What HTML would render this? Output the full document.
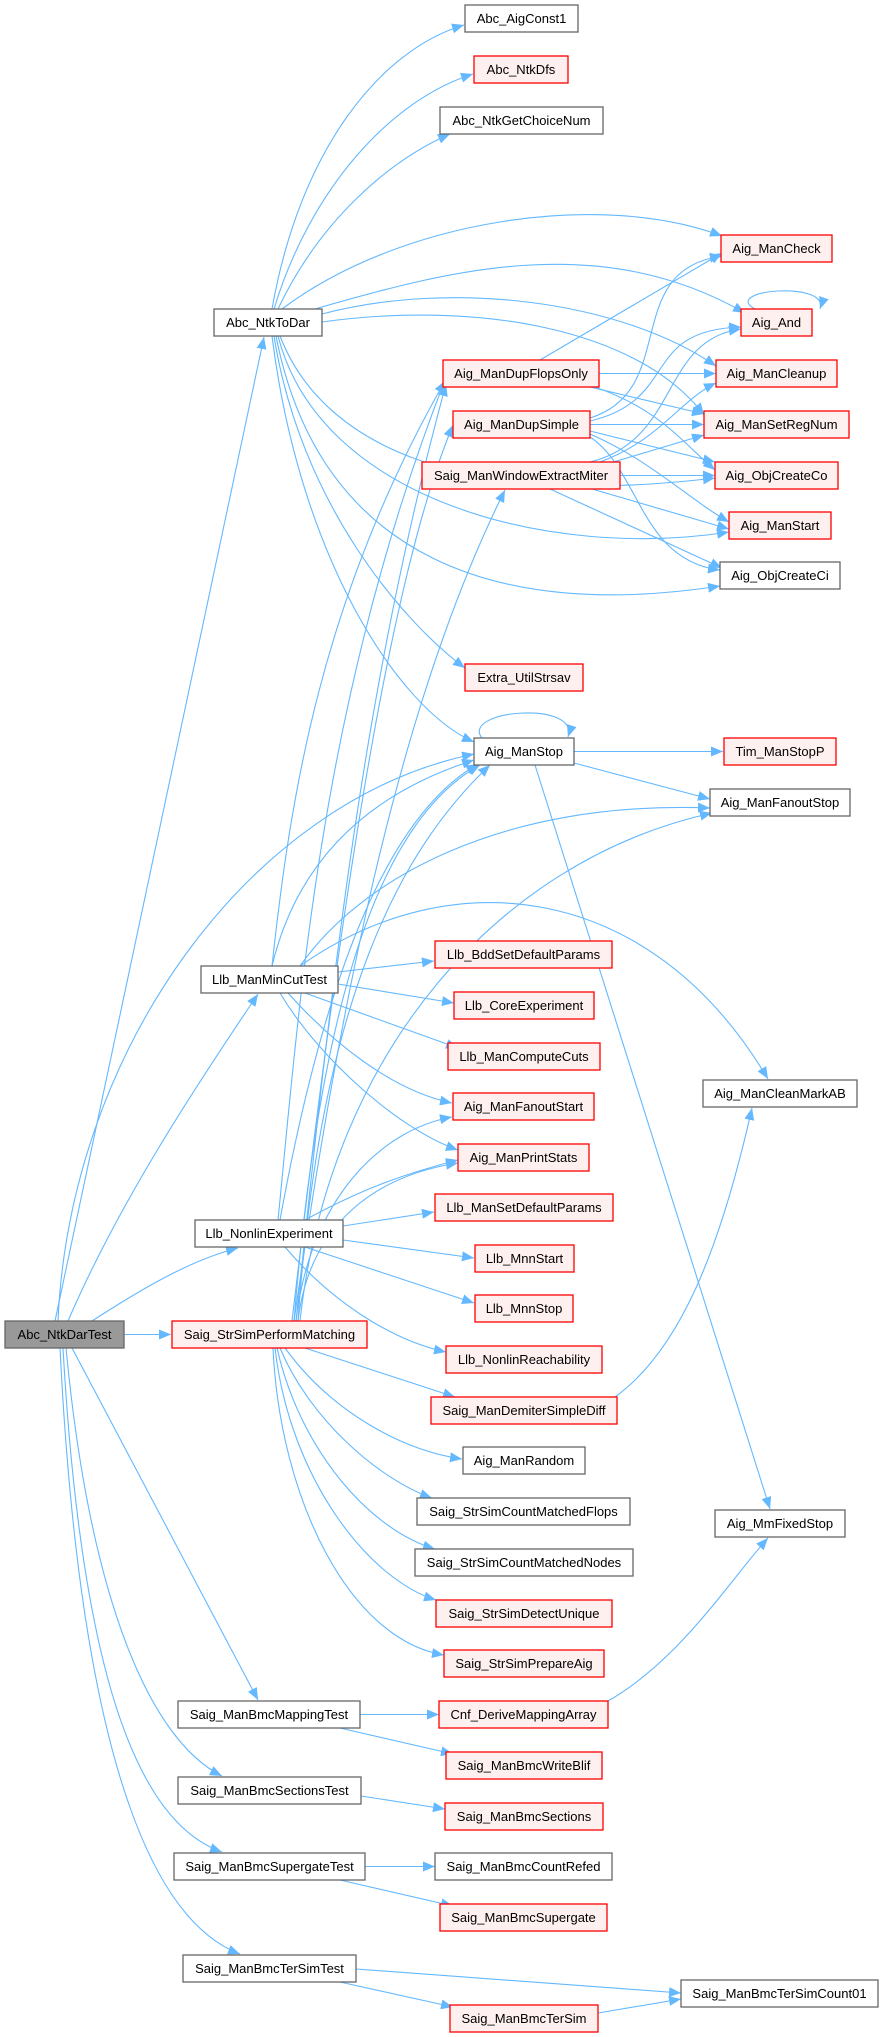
<!DOCTYPE html>
<html><head><meta charset="utf-8"><style>
html,body{margin:0;padding:0;background:#fff;}
svg{display:block;}
text{font-family:"Liberation Sans",Arial,sans-serif;font-size:13px;fill:#000;}
.n rect{fill:#fff;stroke:#666;stroke-width:1.3;}
.r rect{fill:#fff0f0;stroke:#ff0000;stroke-width:1.3;}
.g rect{fill:#999;stroke:#666;stroke-width:1.3;}
path.e{fill:none;stroke:#63b8ff;stroke-width:1.1;marker-end:url(#a);}
</style></head><body>
<svg width="880" height="2037" viewBox="0 0 880 2037" xmlns="http://www.w3.org/2000/svg">
<defs><marker id="a" viewBox="0 0 12 10" refX="12" refY="5" markerWidth="12" markerHeight="10" markerUnits="userSpaceOnUse" orient="auto"><path d="M0,0 L12,5 L0,10 z" fill="#63b8ff"/></marker></defs>

<!-- edges from Abc_NtkDarTest -->
<path class="e" d="M55,1321 L264,337"/>
<path class="e" d="M58,1321 C70,1050 250,800 474,754"/>
<path class="e" d="M68,1321 C120,1200 200,1080 258,994"/>
<path class="e" d="M92,1321 C140,1290 190,1260 238,1248"/>
<path class="e" d="M124,1334.5 L171,1334.5"/>
<path class="e" d="M72,1348 L258,1700"/>
<path class="e" d="M66,1348 C90,1600 150,1740 222,1776"/>
<path class="e" d="M63,1348 C80,1650 130,1820 222,1852"/>
<path class="e" d="M60,1348 C80,1750 150,1920 240,1954"/>

<!-- Abc_NtkToDar -->
<path class="e" d="M272,309 C300,150 380,50 464,25"/>
<path class="e" d="M274,309 C310,190 390,100 473,74"/>
<path class="e" d="M278,309 C320,220 390,160 450,134"/>
<path class="e" d="M282,309 C400,220 600,190 722,236"/>
<path class="e" d="M315,309 C450,270 600,230 745,313"/>
<path class="e" d="M322,314 C450,280 620,300 716,366"/>
<path class="e" d="M322,322 C480,300 640,330 704,415"/>
<path class="e" d="M280,336 C320,440 450,510 715,478"/>
<path class="e" d="M278,336 C320,500 550,560 729,532"/>
<path class="e" d="M276,336 C320,560 500,620 720,586"/>
<path class="e" d="M274,336 C300,500 400,620 465,668"/>
<path class="e" d="M272,336 C300,560 400,710 474,742"/>

<!-- DupFlopsOnly -->
<path class="e" d="M540,360 L722,253"/>
<path class="e" d="M599,373.5 L716,373.5"/>
<path class="e" d="M590,387 L704,414"/>
<path class="e" d="M595,387 C660,410 680,440 715,470"/>
<!-- DupSimple -->
<path class="e" d="M590,418 C680,390 620,270 722,256"/>
<path class="e" d="M590,421 C680,400 640,330 741,327"/>
<path class="e" d="M590,424.5 L704,424.5"/>
<path class="e" d="M590,431 L715,462"/>
<path class="e" d="M590,434 C650,460 690,500 729,522"/>
<path class="e" d="M590,437 C640,470 640,560 720,570"/>
<!-- WindowExtractMiter -->
<path class="e" d="M590,462 C680,440 660,340 741,329"/>
<path class="e" d="M600,462 C660,440 680,400 716,383"/>
<path class="e" d="M600,466 L704,435"/>
<path class="e" d="M620,475.5 L715,475.5"/>
<path class="e" d="M592,489 L729,529"/>
<path class="e" d="M550,489 L722,568"/>
<!-- Aig_And self loop -->
<path class="e" d="M755,309 C720,290 830,280 820,309"/>

<!-- Aig_ManStop -->
<path class="e" d="M482,738 C460,710 580,700 568,737"/>
<path class="e" d="M574,751.5 L723,751.5"/>
<path class="e" d="M574,763 L710,799"/>
<path class="e" d="M535,765 L770,1509"/>

<!-- Llb_ManMinCutTest -->
<path class="e" d="M272,966 C300,850 380,790 474,760"/>
<path class="e" d="M300,966 C360,880 500,800 710,808"/>
<path class="e" d="M300,966 C450,860 650,880 768,1079"/>
<path class="e" d="M338,972 L434,961"/>
<path class="e" d="M338,984 L454,1003"/>
<path class="e" d="M305,993 L458,1048"/>
<path class="e" d="M288,993 C330,1040 390,1090 452,1103"/>
<path class="e" d="M280,993 C320,1060 400,1130 458,1150"/>
<path class="e" d="M272,966 C290,800 320,600 445,381"/>

<!-- Llb_NonlinExperiment -->
<path class="e" d="M278,1220 C300,1000 320,700 445,380"/>
<path class="e" d="M280,1220 C320,1000 380,820 478,764"/>
<path class="e" d="M305,1220 C360,1190 400,1175 458,1160"/>
<path class="e" d="M343,1226 L434,1212"/>
<path class="e" d="M343,1240 L474,1258"/>
<path class="e" d="M305,1247 L474,1303"/>
<path class="e" d="M285,1247 C330,1300 390,1340 446,1352"/>

<!-- Saig_StrSimPerformMatching -->
<path class="e" d="M292,1321 C330,1000 380,600 453,425"/>
<path class="e" d="M294,1321 C340,1000 400,700 505,490"/>
<path class="e" d="M296,1321 C330,1000 360,700 446,384"/>
<path class="e" d="M294,1321 C320,1000 380,820 480,765"/>
<path class="e" d="M298,1321 C320,1000 400,850 490,765"/>
<path class="e" d="M300,1321 C330,1050 500,860 712,813"/>
<path class="e" d="M296,1321 C310,1200 380,1130 452,1117"/>
<path class="e" d="M298,1321 C310,1220 380,1175 458,1163"/>
<path class="e" d="M305,1348 L455,1397"/>
<path class="e" d="M285,1348 C330,1410 400,1450 462,1459"/>
<path class="e" d="M280,1348 C310,1420 380,1480 432,1498"/>
<path class="e" d="M277,1348 C300,1450 370,1530 435,1549"/>
<path class="e" d="M275,1348 C290,1480 370,1580 436,1600"/>
<path class="e" d="M273,1348 C280,1500 350,1640 444,1655"/>

<!-- others -->
<path class="e" d="M615,1397 C680,1350 720,1250 752,1108"/>
<path class="e" d="M608,1701 C680,1660 730,1580 768,1538"/>
<path class="e" d="M360,1714.5 L439,1714.5"/>
<path class="e" d="M340,1728 L453,1754"/>
<path class="e" d="M361,1796 L445,1809"/>
<path class="e" d="M365,1866.5 L435,1866.5"/>
<path class="e" d="M340,1880 L453,1906"/>
<path class="e" d="M356,1969 L681,1993"/>
<path class="e" d="M340,1982 L453,2007"/>
<path class="e" d="M598,2013 L681,1999"/>

<!-- nodes -->
<g class="g"><rect x="5" y="1321" width="119" height="27"/><text x="64.5" y="1339" text-anchor="middle">Abc_NtkDarTest</text></g>
<g class="n"><rect x="214" y="309" width="108" height="27"/><text x="268" y="327" text-anchor="middle">Abc_NtkToDar</text></g>
<g class="n"><rect x="201" y="966" width="137" height="27"/><text x="269.5" y="984" text-anchor="middle">Llb_ManMinCutTest</text></g>
<g class="n"><rect x="195" y="1220" width="148" height="27"/><text x="269" y="1238" text-anchor="middle">Llb_NonlinExperiment</text></g>
<g class="r"><rect x="172" y="1321" width="195" height="27"/><text x="269.5" y="1339" text-anchor="middle">Saig_StrSimPerformMatching</text></g>
<g class="n"><rect x="178" y="1701" width="182" height="27"/><text x="269" y="1719" text-anchor="middle">Saig_ManBmcMappingTest</text></g>
<g class="n"><rect x="178" y="1777" width="183" height="27"/><text x="269.5" y="1795" text-anchor="middle">Saig_ManBmcSectionsTest</text></g>
<g class="n"><rect x="174" y="1853" width="191" height="27"/><text x="269.5" y="1871" text-anchor="middle">Saig_ManBmcSupergateTest</text></g>
<g class="n"><rect x="183" y="1955" width="173" height="27"/><text x="269.5" y="1973" text-anchor="middle">Saig_ManBmcTerSimTest</text></g>

<g class="n"><rect x="465" y="5" width="113" height="27"/><text x="521.5" y="23" text-anchor="middle">Abc_AigConst1</text></g>
<g class="r"><rect x="474" y="56" width="94" height="27"/><text x="521" y="74" text-anchor="middle">Abc_NtkDfs</text></g>
<g class="n"><rect x="440" y="107" width="163" height="27"/><text x="521.5" y="125" text-anchor="middle">Abc_NtkGetChoiceNum</text></g>
<g class="r"><rect x="443" y="360" width="156" height="27"/><text x="521" y="378" text-anchor="middle">Aig_ManDupFlopsOnly</text></g>
<g class="r"><rect x="453" y="411" width="137" height="27"/><text x="521.5" y="429" text-anchor="middle">Aig_ManDupSimple</text></g>
<g class="r"><rect x="422" y="462" width="198" height="27"/><text x="521" y="480" text-anchor="middle">Saig_ManWindowExtractMiter</text></g>
<g class="r"><rect x="465" y="664" width="118" height="27"/><text x="524" y="682" text-anchor="middle">Extra_UtilStrsav</text></g>
<g class="n"><rect x="474" y="738" width="100" height="27"/><text x="524" y="756" text-anchor="middle">Aig_ManStop</text></g>
<g class="r"><rect x="435" y="941" width="177" height="27"/><text x="523.5" y="959" text-anchor="middle">Llb_BddSetDefaultParams</text></g>
<g class="r"><rect x="454" y="992" width="140" height="27"/><text x="524" y="1010" text-anchor="middle">Llb_CoreExperiment</text></g>
<g class="r"><rect x="448" y="1043" width="152" height="27"/><text x="524" y="1061" text-anchor="middle">Llb_ManComputeCuts</text></g>
<g class="r"><rect x="453" y="1093" width="141" height="27"/><text x="523.5" y="1111" text-anchor="middle">Aig_ManFanoutStart</text></g>
<g class="r"><rect x="458" y="1144" width="131" height="27"/><text x="523.5" y="1162" text-anchor="middle">Aig_ManPrintStats</text></g>
<g class="r"><rect x="435" y="1194" width="178" height="27"/><text x="524" y="1212" text-anchor="middle">Llb_ManSetDefaultParams</text></g>
<g class="r"><rect x="475" y="1245" width="99" height="27"/><text x="524.5" y="1263" text-anchor="middle">Llb_MnnStart</text></g>
<g class="r"><rect x="475" y="1295" width="98" height="27"/><text x="524" y="1313" text-anchor="middle">Llb_MnnStop</text></g>
<g class="r"><rect x="446" y="1346" width="156" height="27"/><text x="524" y="1364" text-anchor="middle">Llb_NonlinReachability</text></g>
<g class="r"><rect x="431" y="1397" width="186" height="27"/><text x="524" y="1415" text-anchor="middle">Saig_ManDemiterSimpleDiff</text></g>
<g class="n"><rect x="463" y="1447" width="122" height="27"/><text x="524" y="1465" text-anchor="middle">Aig_ManRandom</text></g>
<g class="n"><rect x="417" y="1498" width="213" height="27"/><text x="523.5" y="1516" text-anchor="middle">Saig_StrSimCountMatchedFlops</text></g>
<g class="n"><rect x="415" y="1549" width="218" height="27"/><text x="524" y="1567" text-anchor="middle">Saig_StrSimCountMatchedNodes</text></g>
<g class="r"><rect x="436" y="1600" width="176" height="27"/><text x="524" y="1618" text-anchor="middle">Saig_StrSimDetectUnique</text></g>
<g class="r"><rect x="444" y="1650" width="160" height="27"/><text x="524" y="1668" text-anchor="middle">Saig_StrSimPrepareAig</text></g>
<g class="r"><rect x="439" y="1701" width="169" height="27"/><text x="523.5" y="1719" text-anchor="middle">Cnf_DeriveMappingArray</text></g>
<g class="r"><rect x="446" y="1752" width="156" height="27"/><text x="524" y="1770" text-anchor="middle">Saig_ManBmcWriteBlif</text></g>
<g class="r"><rect x="445" y="1803" width="158" height="27"/><text x="524" y="1821" text-anchor="middle">Saig_ManBmcSections</text></g>
<g class="n"><rect x="435" y="1853" width="177" height="27"/><text x="523.5" y="1871" text-anchor="middle">Saig_ManBmcCountRefed</text></g>
<g class="r"><rect x="440" y="1904" width="167" height="27"/><text x="523.5" y="1922" text-anchor="middle">Saig_ManBmcSupergate</text></g>
<g class="r"><rect x="450" y="2005" width="148" height="27"/><text x="524" y="2023" text-anchor="middle">Saig_ManBmcTerSim</text></g>

<g class="r"><rect x="721" y="235" width="111" height="27"/><text x="776.5" y="253" text-anchor="middle">Aig_ManCheck</text></g>
<g class="r"><rect x="741" y="309" width="71" height="27"/><text x="776.5" y="327" text-anchor="middle">Aig_And</text></g>
<g class="r"><rect x="716" y="360" width="121" height="27"/><text x="776.5" y="378" text-anchor="middle">Aig_ManCleanup</text></g>
<g class="r"><rect x="704" y="411" width="145" height="27"/><text x="776.5" y="429" text-anchor="middle">Aig_ManSetRegNum</text></g>
<g class="r"><rect x="715" y="462" width="123" height="27"/><text x="776.5" y="480" text-anchor="middle">Aig_ObjCreateCo</text></g>
<g class="r"><rect x="729" y="512" width="102" height="27"/><text x="780" y="530" text-anchor="middle">Aig_ManStart</text></g>
<g class="n"><rect x="720" y="562" width="120" height="27"/><text x="780" y="580" text-anchor="middle">Aig_ObjCreateCi</text></g>
<g class="r"><rect x="724" y="738" width="112" height="27"/><text x="780" y="756" text-anchor="middle">Tim_ManStopP</text></g>
<g class="n"><rect x="710" y="789" width="140" height="27"/><text x="780" y="807" text-anchor="middle">Aig_ManFanoutStop</text></g>
<g class="n"><rect x="703" y="1080" width="154" height="27"/><text x="780" y="1098" text-anchor="middle">Aig_ManCleanMarkAB</text></g>
<g class="n"><rect x="715" y="1510" width="130" height="27"/><text x="780" y="1528" text-anchor="middle">Aig_MmFixedStop</text></g>
<g class="n"><rect x="681" y="1980" width="197" height="27"/><text x="779.5" y="1998" text-anchor="middle">Saig_ManBmcTerSimCount01</text></g>
</svg>
</body></html>
